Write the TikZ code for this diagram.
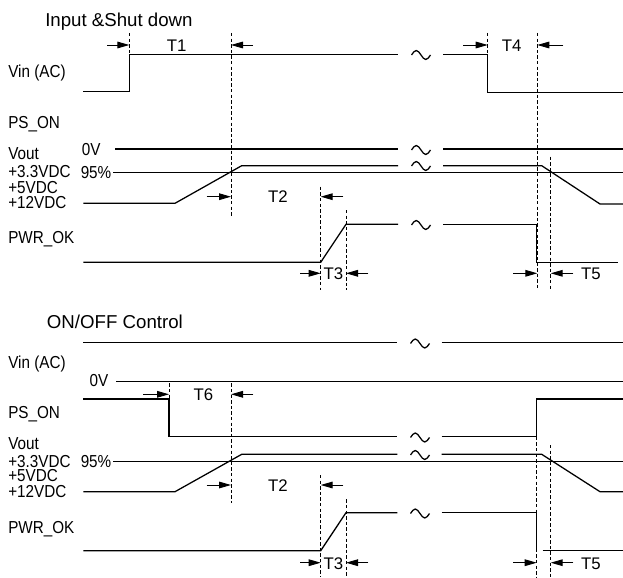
\documentclass[tikz,border=0pt]{standalone}
\usepackage{fontspec}
\setmainfont{Liberation Sans}
\newfontfamily\lblfont[FakeStretch=0.88]{Liberation Sans}
\usetikzlibrary{arrows.meta}
\tikzset{
  sig/.style={line width=0.95pt, line join=miter},
  thinline/.style={line width=0.75pt},
  dsh/.style={line width=0.6pt, dash pattern=on 2.6pt off 1.6pt},
  tarrow/.style={-{Triangle[length=9pt,width=5pt]}, line width=0.7pt},
  lbl/.style={anchor=west, inner sep=0pt, text height=9.4pt, text depth=1.4pt, font=\lblfont\fontsize{13}{13}\selectfont},
  ttl/.style={anchor=west, inner sep=0pt, font=\fontsize{14}{14}\selectfont},
  tlab/.style={inner sep=0pt, font=\fontsize{12.6}{13}\selectfont},
  tld/.pic={\draw[sig] (-9.5,0) sin (-4.75,-4.5) cos (0,0) sin (4.75,4.5) cos (9.5,0);}
}
\begin{document}
\begin{tikzpicture}[x=0.75pt,y=-0.75pt]
\useasboundingbox (0,0) rectangle (623,577);
% ================= TOP: Input & Shut down =================
\node[ttl] (title1) at (45,21.5) {Input \&Shut down};
\node[lbl] (vin1) at (8,72) {Vin (AC)};
\node[lbl] (pson1) at (8,122.7) {PS\_ON};
\node[lbl] (vout1) at (8,154) {Vout};
\node[lbl] (v33a) at (8,172.5) {+3.3VDC};
\node[lbl] (v5a) at (8,187.7) {+5VDC};
\node[lbl] (v12a) at (8,202.7) {+12VDC};
\node[lbl] (zv1) at (81.7,150) {0V};
\node[lbl] (p95a) at (80.5,173) {95\%};
\node[lbl] (pwr1) at (8,237.7) {PWR\_OK};
% Vin
\draw[sig] (83.3,91.7) -- (129.3,91.7) -- (129.3,54.3) -- (398,54.3);
\draw[sig] (443,54.3) -- (487.7,54.3) -- (487.7,92.3) -- (623,92.3);
\pic at (421,55) {tld};
% 0V line
\draw[sig] (115,149) -- (398,149);
\draw[sig] (443,149) -- (623,149);
\pic at (421,150) {tld};
% 95% line
\draw[thinline] (113.3,173) -- (623,173);
% Vout
\draw[sig] (83.3,203.3) -- (175,203.3) -- (241.7,165.7) -- (398,165.7);
\draw[sig] (443,165.7) -- (541.7,165.7) -- (600,204) -- (623,204);
\pic at (421,166) {tld};
% PWR_OK
\draw[sig] (83.3,262.3) -- (320.7,262.3) -- (346,224.3) -- (398,224.3);
\draw[sig] (443,224.3) -- (536.7,224.3) -- (536.7,262.3) -- (618.3,262.3);
\pic at (421,225) {tld};
% dashed markers
\draw[dsh] (129.3,33) -- (129.3,54.3);
\draw[dsh] (231,33) -- (231,216.7);
\draw[dsh] (320.7,186.7) -- (320.7,290);
\draw[dsh] (346,210) -- (346,290);
\draw[dsh] (487.7,33) -- (487.7,54.3);
\draw[dsh] (537.3,33) -- (537.3,290);
\draw[dsh] (550.7,156.7) -- (550.7,290);
% T1, T4
\draw[tarrow] (107,45) -- (129.3,45);
\draw[tarrow] (253,45) -- (231,45);
\node[tlab] (t1) at (176.7,46) {T1};
\draw[tarrow] (463.3,45) -- (487.7,45);
\draw[tarrow] (563.3,45) -- (537.3,45);
\node[tlab] (t4) at (511.7,46) {T4};
% T2
\draw[tarrow] (206.7,196.7) -- (231,196.7);
\draw[tarrow] (343.3,196.7) -- (320.7,196.7);
\node[tlab] (t2a) at (278,197) {T2};
% T3, T5
\draw[tarrow] (300,273.3) -- (320.7,273.3);
\draw[tarrow] (368.3,273.3) -- (346,273.3);
\node[tlab] (t3a) at (333.3,274) {T3};
\draw[tarrow] (513.3,273.3) -- (537.3,273.3);
\draw[tarrow] (573.3,273.3) -- (550.7,273.3);
\node[tlab] (t5a) at (591,274) {T5};
% ================= BOTTOM: ON/OFF Control =================
\node[ttl] (title2) at (46.7,322) {ON/OFF Control};
\node[lbl] (vin2) at (8,362.7) {Vin (AC)};
\node[lbl] (zv2) at (89.3,381) {0V};
\node[lbl] (pson2) at (8,412.7) {PS\_ON};
\node[lbl] (vout2) at (8,444.3) {Vout};
\node[lbl] (v33b) at (8,462) {+3.3VDC};
\node[lbl] (v5b) at (8,476.5) {+5VDC};
\node[lbl] (v12b) at (8,492) {+12VDC};
\node[lbl] (p95b) at (80.5,462) {95\%};
\node[lbl] (pwr2) at (8,527.7) {PWR\_OK};
% Vin
\draw[sig] (83.3,342.7) -- (397.3,342.7);
\draw[sig] (441.7,342.7) -- (623,342.7);
\pic at (420,343.5) {tld};
% 0V
\draw[thinline] (116,381) -- (623,381);
% PS_ON
\draw[sig] (83.3,399) -- (169,399) -- (169,436.7) -- (397.3,436.7);
\draw[sig] (441.7,436.7) -- (536.7,436.7) -- (536.7,399) -- (623,399);
\pic at (420,437.5) {tld};
% 95%
\draw[thinline] (113.3,461.7) -- (623,461.7);
% Vout
\draw[sig] (83.3,491.7) -- (175,491.7) -- (241.7,454.3) -- (397.3,454.3);
\draw[sig] (441.7,454.3) -- (541.7,454.3) -- (600,491.7) -- (623,491.7);
\pic at (420,455) {tld};
% PWR_OK
\draw[sig] (83.3,550.7) -- (320.7,550.7) -- (346,512.7) -- (397.3,512.7);
\draw[sig] (441.7,512.7) -- (536.7,512.7) -- (536.7,550.7);
\draw[sig] (542.7,550.7) -- (623,550.7);
\pic at (420,513.5) {tld};
% dashed markers
\draw[dsh] (169,383.3) -- (169,399);
\draw[dsh] (231,383.3) -- (231,503.3);
\draw[dsh] (320.7,475) -- (320.7,577);
\draw[dsh] (346,499.3) -- (346,577);
\draw[dsh] (536.7,436.7) -- (536.7,577);
\draw[dsh] (550.7,445) -- (550.7,577);
% T6
\draw[tarrow] (143.3,394.3) -- (169,394.3);
\draw[tarrow] (253.3,394.3) -- (231,394.3);
\node[tlab] (t6) at (203.3,395) {T6};
% T2
\draw[tarrow] (206.7,485) -- (231,485);
\draw[tarrow] (343.3,485) -- (320.7,485);
\node[tlab] (t2b) at (278,485.5) {T2};
% T3, T5
\draw[tarrow] (300,562.7) -- (320.7,562.7);
\draw[tarrow] (368.3,562.7) -- (346,562.7);
\node[tlab] (t3b) at (333.3,563.5) {T3};
\draw[tarrow] (513.3,562.7) -- (536.7,562.7);
\draw[tarrow] (573.3,562.7) -- (550.7,562.7);
\node[tlab] (t5b) at (591,563.5) {T5};
\end{tikzpicture}
\end{document}
